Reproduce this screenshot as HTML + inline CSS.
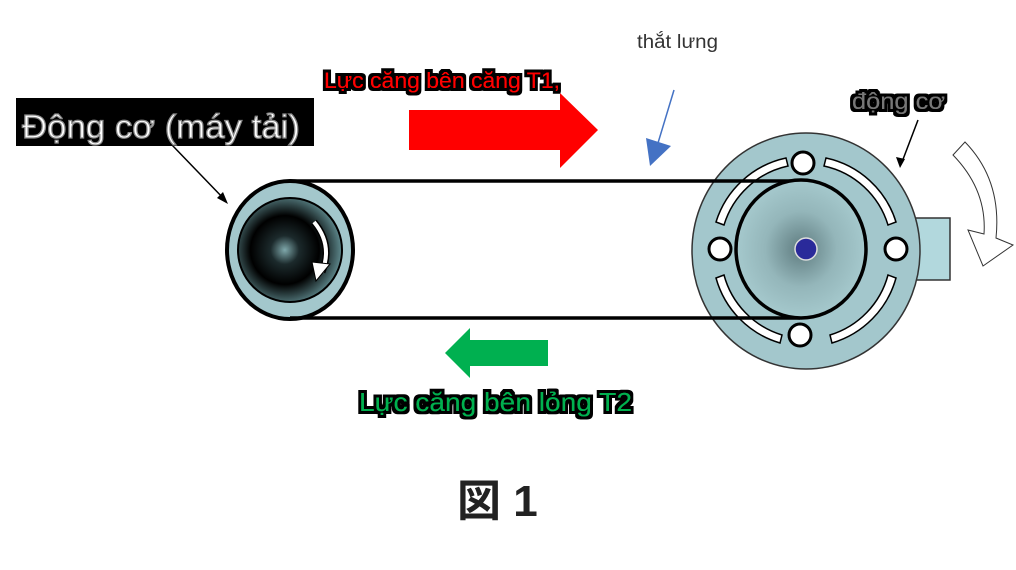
<!DOCTYPE html>
<html><head><meta charset="utf-8"><style>
html,body{margin:0;padding:0;background:#fff;}
svg{display:block;}
</style></head><body>
<svg width="1016" height="570" viewBox="0 0 1016 570" xmlns="http://www.w3.org/2000/svg">
<defs>
<radialGradient id="lg" cx="0.45" cy="0.5" r="0.55">
<stop offset="0" stop-color="#7fa8ab"/><stop offset="0.25" stop-color="#1c2a2c"/><stop offset="0.6" stop-color="#000"/><stop offset="1" stop-color="#5f8a8e"/>
</radialGradient>
<radialGradient id="rg" cx="0.5" cy="0.5" r="0.55">
<stop offset="0" stop-color="#5f7c80"/><stop offset="0.5" stop-color="#94b6ba"/><stop offset="1" stop-color="#a9cdd1"/>
</radialGradient>
<filter id="glow" x="-10%" y="-40%" width="120%" height="180%">
<feMorphology operator="dilate" radius="3" in="SourceAlpha" result="d"/>
<feFlood flood-color="#000"/><feComposite in2="d" operator="in" result="b"/>
<feMerge><feMergeNode in="b"/><feMergeNode in="SourceGraphic"/></feMerge>
</filter>
</defs>
<!-- left pulley -->
<ellipse cx="290" cy="250" rx="63" ry="69" fill="#a3c7cc" stroke="#000" stroke-width="4"/>
<ellipse cx="290" cy="250" rx="52" ry="52" fill="url(#lg)" stroke="#000" stroke-width="2"/>
<path d="M314 222 Q333 245 322 272" fill="none" stroke="#000" stroke-width="7"/>
<path d="M314 222 Q333 245 322 272" fill="none" stroke="#fff" stroke-width="4"/>
<polygon points="312,262 330,264 316,281" fill="#fff" stroke="#000" stroke-width="1"/>
<!-- right motor -->
<rect x="915" y="218" width="35" height="62" fill="#b2d8dd" stroke="#333" stroke-width="1.5"/>
<ellipse cx="806" cy="251" rx="114" ry="118" fill="#a3c7cc" stroke="#333" stroke-width="1.5"/>
<g fill="#fff" stroke="#000" stroke-width="1.5">
<path d="M786 158 A94 94 0 0 0 716 222 L724 225 A86 86 0 0 1 788 166 Z"/>
<path d="M826 158 A94 94 0 0 1 896 222 L888 225 A86 86 0 0 0 824 166 Z"/>
<path d="M716 278 A94 94 0 0 0 780 343 L782 335 A86 86 0 0 1 724 275 Z"/>
<path d="M896 278 A94 94 0 0 1 832 343 L830 335 A86 86 0 0 0 888 275 Z"/>
</g>
<!-- belt -->
<line x1="290" y1="181" x2="800" y2="181" stroke="#000" stroke-width="3.5"/>
<line x1="290" y1="318" x2="800" y2="318" stroke="#000" stroke-width="3.5"/>
<ellipse cx="801" cy="249" rx="65" ry="69" fill="url(#rg)" stroke="#000" stroke-width="3.5"/>
<g fill="#fff" stroke="#000" stroke-width="3">
<circle cx="803" cy="163" r="11"/><circle cx="800" cy="335" r="11"/>
<circle cx="720" cy="249" r="11"/><circle cx="896" cy="249" r="11"/>
</g>
<circle cx="806" cy="249" r="11" fill="#2a2a9a" stroke="#ddd" stroke-width="1.5"/>
<!-- curved arrow right -->
<path d="M953 155 L965 142 Q1002 180 996 238 L1013 245 L983 266 L968 230 L984 234 Q987 190 953 155 Z" fill="#fff" stroke="#333" stroke-width="1"/>
<!-- pointer arrows -->
<line x1="172" y1="145" x2="225" y2="200" stroke="#000" stroke-width="1.5"/>
<polygon points="228,204 217,198 223,192" fill="#000"/>
<line x1="918" y1="120" x2="902" y2="162" stroke="#000" stroke-width="1.5"/>
<polygon points="900,168 896,157 905,159" fill="#000"/>
<line x1="674" y1="90" x2="658" y2="143" stroke="#4472c4" stroke-width="1.5"/>
<polygon points="646,138 671,146 650,166" fill="#4472c4"/>
<!-- force arrows -->
<polygon points="409,110 560,110 560,93 598,130 560,168 560,150 409,150" fill="#f00"/>
<polygon points="548,340 470,340 470,328 445,353 470,378 470,366 548,366" fill="#00b050"/>
<!-- labels -->
<rect x="16" y="98" width="298" height="48" fill="#000"/>
<text x="22" y="138" font-family="Liberation Sans, sans-serif" font-size="33" fill="#fff" stroke="#888" stroke-width="1.2" textLength="278" lengthAdjust="spacingAndGlyphs">Động cơ (máy tải)</text>
<g filter="url(#glow)">
<text x="324" y="88" font-family="Liberation Sans, sans-serif" font-size="22" fill="#f00" textLength="236" lengthAdjust="spacingAndGlyphs">Lực căng bên căng T1,</text>
<text x="359" y="411" font-family="Liberation Sans, sans-serif" font-size="26" fill="#00b050" textLength="273" lengthAdjust="spacingAndGlyphs">Lực căng bên lỏng T2</text>
<text x="852" y="109" font-family="Liberation Sans, sans-serif" font-size="23" fill="#777" textLength="93" lengthAdjust="spacingAndGlyphs">động cơ</text>
</g>
<text x="637" y="48" font-family="Liberation Sans, sans-serif" font-size="19" fill="#333" textLength="81" lengthAdjust="spacingAndGlyphs">thắt lưng</text>
<text x="457" y="516" font-family="Liberation Sans, 'Noto Sans CJK JP', sans-serif" font-size="44" font-weight="bold" fill="#222">図 1</text>
</svg>
</body></html>
